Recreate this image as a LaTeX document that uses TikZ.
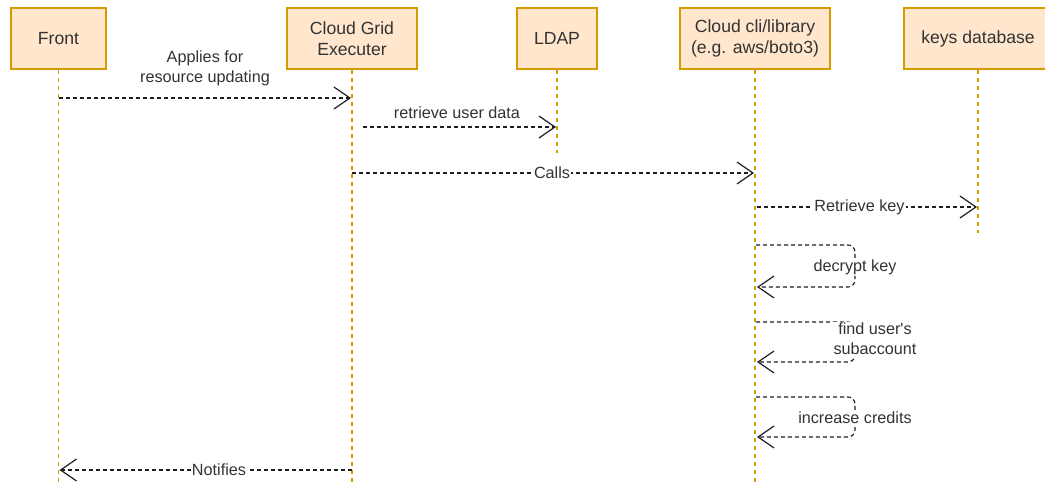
\documentclass[tikz,border=0pt]{standalone}
\usepackage{fontspec}
\setmainfont{Liberation Sans}[Ligatures=TeXOff]
\usetikzlibrary{arrows.meta}
\definecolor{boxfill}{HTML}{FFE6CC}
\definecolor{boxline}{HTML}{D79B00}
\definecolor{ink}{HTML}{333333}
\definecolor{wire}{HTML}{1E1E1E}
\tikzset{
  actor/.style={draw=boxline, fill=boxfill, line width=1.2pt, minimum height=61pt,
    inner sep=2pt, align=center, text=ink, font=\fontsize{17.6}{21}\selectfont},
  lifeline/.style={draw=boxline, line width=1.2pt, dash pattern=on 4pt off 4pt},
  msg/.style={draw=wire, line width=1.15pt, dash pattern=on 4pt off 3pt,
    -{Straight Barb[length=16pt,width=22pt,line width=1.2pt]}},
  lbl/.style={text=ink, font=\fontsize{16.2}{20}\selectfont, align=center, inner sep=1pt},
  onlbl/.style={lbl, fill=white},
}
\begin{document}
\begin{tikzpicture}[x=1pt, y=-1pt]
\useasboundingbox (0,0) rectangle (1045,486);
\fill[white] (0,0) rectangle (1045,486);

% participants
\node[actor, minimum width=95pt]  (front) at (58.5,38.5)  {Front};
\node[actor, minimum width=130pt] (cge)   at (352,38.5)   {Cloud Grid\\Executer};
\node[actor, minimum width=80pt]  (ldap)  at (557,38.5)   {LDAP};
\node[actor, minimum width=150pt] (cli)   at (755,38.5)   {Cloud cli/library\\(e.g. aws/boto3)};
\node[actor, minimum width=148pt] (keys)  at (978,38.5)   {keys database};

% lifeline ends
\coordinate (frontEnd) at (58.5,486);
\coordinate (cgeEnd)   at (352,486);
\coordinate (ldapEnd)  at (557,153);
\coordinate (cliEnd)   at (755,486);
\coordinate (keysEnd)  at (978,233);

\draw[lifeline] (front.south) -- (frontEnd);
\draw[lifeline] (cge.south)   -- (cgeEnd);
\draw[lifeline] (ldap.south)  -- (ldapEnd);
\draw[lifeline] (cli.south)   -- (cliEnd);
\draw[lifeline] (keys.south)  -- (keysEnd);

% message anchors on the lifelines
\coordinate (m1a) at (58.5,98);  \coordinate (m1b) at (351,98);
\coordinate (m2a) at (363,127);  \coordinate (m2b) at (556,127);
\coordinate (m3a) at (352,173);  \coordinate (m3b) at (754,173);
\coordinate (m4a) at (757,207);  \coordinate (m4b) at (977,207);
\coordinate (m8a) at (352,470);  \coordinate (m8b) at (59.5,470);

\draw[msg] (m1a) -- (m1b);
\node[lbl] (l1) at (205,68) {Applies for\\resource updating};

\draw[msg] (m2a) -- (m2b);
\node[lbl] (l2) at (457,113) {retrieve user data};

\draw[msg] (m3a) -- (m3b);
\node[onlbl] (l3) at (552,173) {Calls};

\draw[msg] (m4a) -- (m4b);
\node[onlbl] (l4) at (859.5,207) {Retrieve key};

% self calls on the cli lifeline
\coordinate (s1a) at (756,245); \coordinate (s1b) at (757,287);
\coordinate (s2a) at (756,322); \coordinate (s2b) at (757,362);
\coordinate (s3a) at (756,397); \coordinate (s3b) at (757,437);

\draw[msg, rounded corners=7pt] (s1a) -- (855,245) -- (855,287) -- (s1b);
\node[onlbl] (l5) at (855,267) {decrypt key};

\draw[msg, rounded corners=7pt] (s2a) -- (855,322) -- (855,362) -- (s2b);
\node[onlbl] (l6) at (875,339) {find user's\\subaccount};

\draw[msg, rounded corners=7pt] (s3a) -- (855,397) -- (855,437) -- (s3b);
\node[onlbl] (l7) at (855,418) {increase credits};

\draw[msg] (m8a) -- (m8b);
\node[onlbl] (l8) at (219,470) {Notifies};
\end{tikzpicture}
\end{document}
